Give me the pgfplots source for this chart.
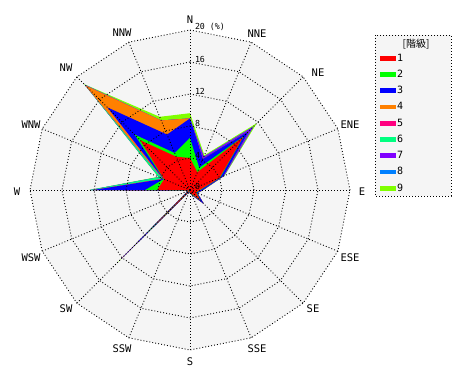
\documentclass[border=0pt]{standalone}
\usepackage{pgfplots}
\pgfplotsset{compat=1.18}
\usepackage{pgfplotstable}
\usepackage{fontspec}
\setmainfont{DejaVu Sans}
\setmonofont{DejaVu Sans Mono}
\newfontfamily\cjk{Noto Sans CJK JP}

\definecolor{bgc}{RGB}{245,245,245}
\definecolor{k1}{RGB}{255,0,0}
\definecolor{k2}{RGB}{0,255,0}
\definecolor{k3}{RGB}{0,0,255}
\definecolor{k4}{RGB}{255,128,0}
\definecolor{k5}{RGB}{255,0,128}
\definecolor{k6}{RGB}{0,255,128}
\definecolor{k7}{RGB}{128,0,255}
\definecolor{k8}{RGB}{0,128,255}
\definecolor{k9}{RGB}{128,255,0}

% angle (math convention, deg) and cumulative frequency (%) per class
\pgfplotstableread{
a      c1   c2   c3    c4    c5    c6    c7    c8    c9
90     4.0  6.5  8.95  8.95  8.95  8.95  8.95  8.95  9.6
67.5   2.4  3.0  4.2   4.2   4.2   4.2   4.5   4.5   4.7
45     9.4  9.5  10.4  10.4  10.4  10.5  11.2  11.2  11.8
22.5   4.0  4.1  4.5   4.5   4.5   4.5   4.6   4.6   4.7
0      1.2  1.3  1.6   1.6   1.6   1.6   1.6   1.6   1.7
-22.5  0.8  0.9  1.0   1.0   1.0   1.0   1.0   1.0   1.0
-45    1.8  1.85 2.4   2.4   2.4   2.4   2.4   2.4   2.4
-67.5  0.5  0.6  0.7   0.7   0.7   0.7   0.7   0.7   0.7
-90    0.3  0.3  0.4   0.4   0.4   0.4   0.4   0.4   0.4
-112.5 0.1  0.15 0.25  0.25  0.25  0.25  0.25  0.25  0.25
-135   5.9  7.4  11.8  11.8  12.1  12.1  12.2  12.2  12.7
-157.5 0.1  0.15 0.25  0.25  0.25  0.25  0.25  0.25  0.25
180    4.1  5.6  12.1  12.1  12.1  12.5  12.5  12.5  12.6
157.5  3.5  3.55 3.6   3.6   3.7   4.2   4.2   4.2   4.3
135    8.8  9.8  14.6  18.4  18.5  18.6  18.6  18.6  18.7
112.5  4.5  5.0  7.5   9.4   9.4   9.4   9.4   9.4   9.9
90     4.0  6.5  8.95  8.95  8.95  8.95  8.95  8.95  9.6
}\data

\tikzset{gridline/.style={black, line width=0.9pt, dash pattern=on 0.9pt off 2.1pt}}

\begin{document}
\begin{tikzpicture}
\begin{axis}[
  x=8pt, y=8pt,
  xmin=-23.75, xmax=35, ymin=-23.75, ymax=23.75,
  hide axis, clip=false,
  reverse legend,
  legend image code/.code={\fill[#1] (0pt,-2.4pt) rectangle (16pt,2.4pt);},
  legend style={draw=none, fill=none, at={(axis cs:23.75,17.17)}, anchor=north west,
    inner sep=0pt, row sep=5.4pt,
    font=\ttfamily\fontsize{10}{10}\selectfont,
    nodes={inner sep=1pt}},
  legend cell align=left,
]
\path (axis cs:-23.75,-23.75) rectangle (axis cs:35,23.75);
% background polygon
\addplot[forget plot, fill=bgc, draw=none, data cs=polar] table[x=a, y expr=20] {\data};
% legend frame
\draw[gridline, fill=bgc] (axis cs:23.125,19.375) rectangle (axis cs:32.625,-0.75);
\node[font=\cjk\fontsize{10}{10}\selectfont] at (axis cs:28.25,18.2) {[階級]};
% stacked classes
\addplot[fill=k9, draw=none, data cs=polar] table[x=a, y=c9] {\data}; \addlegendentry{9}
\addplot[fill=k8, draw=none, data cs=polar] table[x=a, y=c8] {\data}; \addlegendentry{8}
\addplot[fill=k7, draw=none, data cs=polar] table[x=a, y=c7] {\data}; \addlegendentry{7}
\addplot[fill=k6, draw=none, data cs=polar] table[x=a, y=c6] {\data}; \addlegendentry{6}
\addplot[fill=k5, draw=none, data cs=polar] table[x=a, y=c5] {\data}; \addlegendentry{5}
\addplot[fill=k4, draw=none, data cs=polar] table[x=a, y=c4] {\data}; \addlegendentry{4}
\addplot[fill=k3, draw=none, data cs=polar] table[x=a, y=c3] {\data}; \addlegendentry{3}
\addplot[fill=k2, draw=none, data cs=polar] table[x=a, y=c2] {\data}; \addlegendentry{2}
\addplot[fill=k1, draw=none, data cs=polar] table[x=a, y=c1] {\data}; \addlegendentry{1}
% grid rings
\pgfplotsinvokeforeach{4,8,12,16,20}{
  \addplot[forget plot, gridline, data cs=polar] table[x=a, y expr=#1] {\data};
}
% radial lines
\pgfplotsinvokeforeach{0,22.5,...,337.5}{
  \addplot[forget plot, gridline, data cs=polar] coordinates {(#1,0) (#1,20)};
}
% ring labels
\begin{scope}[every node/.style={anchor=west, inner sep=0pt, font=\ttfamily\fontsize{8.3}{9}\selectfont}]
\node at (axis cs:0.6,0.4) {0};
\node at (axis cs:0.6,4.375) {4};
\node at (axis cs:0.6,8.375) {8};
\node at (axis cs:0.6,12.375) {12};
\node at (axis cs:0.6,16.375) {16};
\node at (axis cs:0.6,20.375) {20 (\%)};
\end{scope}
% direction labels
\begin{scope}[every node/.style={inner sep=0pt, font=\ttfamily\fontsize{10.5}{12}\selectfont}]
\node at (axis cs:0,21.25) {N};
\node at (axis cs:8.375,19.5) {NNE};
\node at (axis cs:16,14.625) {NE};
\node at (axis cs:20,8.125) {ENE};
\node at (axis cs:21.5,-0.25) {E};
\node at (axis cs:20,-8.5) {ESE};
\node at (axis cs:15.375,-14.875) {SE};
\node at (axis cs:8.375,-19.875) {SSE};
\node at (axis cs:0,-21.5) {S};
\node at (axis cs:-8.5,-19.875) {SSW};
\node at (axis cs:-15.5,-14.875) {SW};
\node at (axis cs:-19.875,-8.5) {WSW};
\node at (axis cs:-21.625,-0.25) {W};
\node at (axis cs:-19.875,8.125) {WNW};
\node at (axis cs:-15.5,15.25) {NW};
\node at (axis cs:-8.5,19.625) {NNW};
\end{scope}
\end{axis}
\end{tikzpicture}
\end{document}
